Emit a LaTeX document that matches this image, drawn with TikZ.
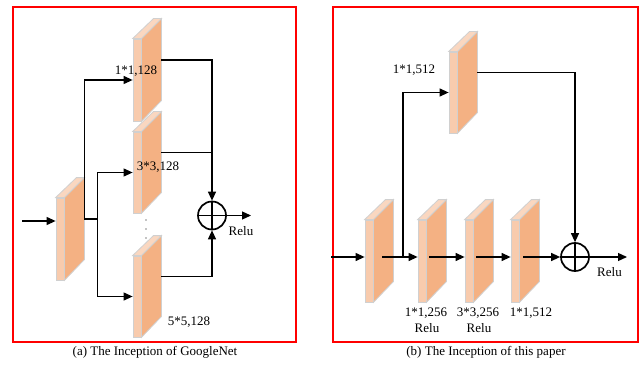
\documentclass[tikz,border=0pt]{standalone}
\usepackage{fontspec}
\setmainfont{Liberation Serif}
\usetikzlibrary{arrows.meta}
\definecolor{slabfront}{HTML}{F8CBAD}
\definecolor{slabtop}{HTML}{FAD7C0}
\definecolor{slabside}{HTML}{F4B183}
\definecolor{slabedge}{HTML}{D0D0D0}
\definecolor{framered}{HTML}{FF0000}

% A feature-map slab: thin light front face plus orange side and top faces.
% #1 name, #2 left x, #3 top y, #4 height of the front face
\newcommand\slab[4]{%
  \node[slabface, minimum height=#4pt] (#1) at (#2+4,#3+#4/2) {};
  \draw[slabline, fill=slabside] (#1.north east) -- ++(20,-20) -- ++(0,#4) -- (#1.south east) -- cycle;
  \draw[slabline, fill=slabtop] (#1.north west) -- (#1.north east) -- ++(20,-20) -- ++(-8,0) -- cycle;
  \path (#1.east) ++(20,-20) coordinate (#1-r);
}

\tikzset{
  slabface/.style={draw=slabedge, fill=slabfront, line width=0.8pt, minimum width=8pt, inner sep=0pt},
  slabline/.style={draw=slabedge, line width=0.8pt},
  lbl/.style={font=\fontsize{13}{15}\selectfont, inner sep=0pt},
  arr/.style={line width=1.2pt, -{Triangle[length=9pt,width=8pt]}},
  wire/.style={line width=1.2pt},
  sum/.style={circle, draw, line width=1.7pt, minimum size=28pt, inner sep=0pt},
  panel/.style={draw=framered, line width=1.8pt},
}

\begin{document}
\begin{tikzpicture}[x=1pt, y=-1pt]
\useasboundingbox (0,0) rectangle (644,366);

% panels
\draw[panel] (13,7) rectangle (296,342);
\draw[panel] (333,7) rectangle (638,342);
\node[lbl] (capA) at (155,352.5) {(a) The Inception of GoogleNet};
\node[lbl] (capB) at (486,352.5) {(b) The Inception of this paper};

% ---------- (a) GoogleNet inception ----------
\slab{a0}{56}{198}{82}
\slab{a1}{133}{39}{82}
\slab{a2}{133}{132}{81}
\slab{a3}{133}{256}{81}

\foreach \yy in {220,229,238} \fill (146,\yy) circle (0.6pt);

\node[sum] (sumA) at (212,215.5) {};
\draw[line width=1.7pt] (sumA.north) -- (sumA.south) (sumA.west) -- (sumA.east);

\coordinate (inA) at (22,221);
\draw[arr] (inA) -- (inA -| a0.west);
\draw[arr] (a0-r) |- (a1.west);
\draw[wire] (a0-r) -- ++(13,0) coordinate (spA);
\draw[arr] (spA) |- (a2.west);
\draw[arr] (spA) |- (a3.west);

\draw[arr] (a1-r) -| (sumA.north);
\draw[wire] (a2-r) -- (a2-r -| sumA);
\draw[arr] (a3-r) -| (sumA.south);
\coordinate (outA) at (251,215.5);
\draw[arr] (sumA.east) -- (outA);

\node[lbl] (lA1) at (136,71) {1*1,128};
\node[lbl] (lA2) at (158,167) {3*3,128};
\node[lbl] (lA3) at (189,322) {5*5,128};
\node[lbl] (reluA) at (241,231) {Relu};

% ---------- (b) proposed inception ----------
\slab{t}{449}{52}{81}
\slab{b0}{365}{220}{82}
\slab{b1}{418}{220}{82}
\slab{b2}{465}{220}{82}
\slab{b3}{511}{220}{82}

\node[sum] (sumB) at (575,257) {};
\draw[line width=1.7pt] (sumB.north) -- (sumB.south) (sumB.west) -- (sumB.east);

\coordinate (mainB) at (331,257);
\draw[arr] (mainB) -- (mainB -| b0.west);
\path (b0.east |- mainB) ++(9,0) coordinate (o0);
\path (b1.east |- mainB) ++(3,0) coordinate (o1);
\path (b2.east |- mainB) ++(3,0) coordinate (o2);
\path (b3.east |- mainB) ++(4,0) coordinate (o3);
\draw[arr] (o0) -- (o0 -| b1.west);
\draw[arr] (o1) -- (o1 -| b2.west);
\draw[arr] (o2) -- (o2 -| b3.west);
\draw[arr] (o3) -- (sumB.west);

\coordinate (brB) at (403,257);
\draw[arr] (brB) |- (t.west);
\draw[arr] (t-r) -| (sumB.north);
\coordinate (outB) at (627,257);
\draw[arr] (sumB.east) -- (outB);

\node[lbl] (lT) at (414,70) {1*1,512};
\node[lbl] (lB1) at (426,313) {1*1,256};
\node[lbl] (rB1) at (427,328) {Relu};
\node[lbl] (lB2) at (478,313) {3*3,256};
\node[lbl] (rB2) at (479,328) {Relu};
\node[lbl] (lB3) at (531,313) {1*1,512};
\node[lbl] (reluB) at (609.5,272) {Relu};
\end{tikzpicture}
\end{document}
